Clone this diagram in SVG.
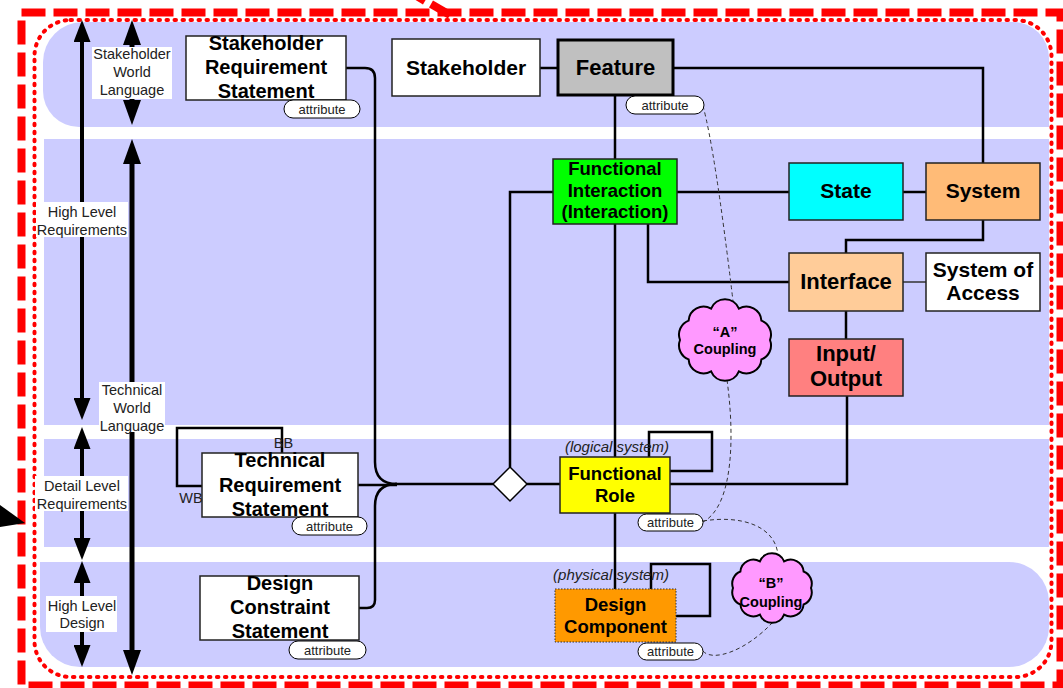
<svg xmlns="http://www.w3.org/2000/svg" width="1063" height="688" viewBox="0 0 1063 688">
<defs>
<style>
.band{fill:#CCCCFF}
.node{stroke:#222;stroke-width:1.5}
.t{font-family:"Liberation Sans",Arial,sans-serif;font-weight:bold;fill:#000;text-anchor:middle}
.lbl{font-family:"Liberation Sans",Arial,sans-serif;font-size:14.5px;fill:#222;text-anchor:middle}
.it{font-family:"Liberation Sans",Arial,sans-serif;font-size:15px;font-style:italic;fill:#222;text-anchor:middle}
.lblbox{fill:#fff}
.attr rect{fill:#fff;stroke:#000;stroke-width:1}
.attr text{font-family:"Liberation Sans",Arial,sans-serif;font-size:13px;fill:#222;text-anchor:middle}
.conn{fill:none;stroke:#000;stroke-width:2.5}
.dash{fill:none;stroke:#333;stroke-width:1;stroke-dasharray:4 3}
.cloud{fill:#FF99FF;stroke:#000;stroke-width:2}
.ax1{stroke:#000;stroke-width:4}
.ax2{stroke:#000;stroke-width:5}
</style>
<marker id="ah1" markerUnits="userSpaceOnUse" markerWidth="22" markerHeight="17" viewBox="0 0 22 17" refX="0" refY="8.5" orient="auto-start-reverse"><path d="M0,0 L22,8.5 L0,17 z" fill="#000"/></marker>
<marker id="ah2" markerUnits="userSpaceOnUse" markerWidth="25" markerHeight="18" viewBox="0 0 25 18" refX="0" refY="9" orient="auto-start-reverse"><path d="M0,0 L25,9 L0,18 z" fill="#000"/></marker>
</defs>

<rect width="1063" height="688" fill="#fff"/>

<g id="bands">
<path class="band" d="M83,22 H1013 A36,36 0 0 1 1049,58 V127 H79 A36,36 0 0 1 43,91 V62 A40,40 0 0 1 83,22 Z"/>
<rect class="band" x="44" y="139" width="1005" height="286"/>
<rect class="band" x="44" y="439" width="1005" height="108"/>
<path class="band" d="M40,562 H1009 A40,40 0 0 1 1049,602 V627 A40,40 0 0 1 1009,667 H80 A40,40 0 0 1 40,627 Z"/>
</g>

<g id="borders">
<rect x="21.5" y="12.5" width="1039" height="673" fill="none" stroke="#FF0000" stroke-width="8" stroke-dasharray="24 8"/>
<rect x="34.5" y="20" width="1017" height="657" rx="36" fill="none" stroke="#FF0000" stroke-width="4" stroke-dasharray="1.5 6.5" stroke-linecap="round"/>
<line x1="405" y1="-11" x2="425" y2="1" stroke="#FF0000" stroke-width="8"/>
<line x1="431" y1="4" x2="450" y2="15" stroke="#FF0000" stroke-width="8"/>
<polygon points="0,505 25,523 0,527" fill="#000"/>
</g>

<g id="axes">
<line class="ax1" x1="82" y1="42" x2="82" y2="398" marker-start="url(#ah1)" marker-end="url(#ah1)"/>
<line class="ax1" x1="82" y1="449" x2="82" y2="538" marker-start="url(#ah1)" marker-end="url(#ah1)"/>
<line class="ax1" x1="82" y1="583" x2="82" y2="645" marker-start="url(#ah1)" marker-end="url(#ah1)"/>
<line class="ax2" x1="132" y1="45" x2="132" y2="100" marker-start="url(#ah2)" marker-end="url(#ah2)"/>
<line class="ax2" x1="132" y1="164" x2="132" y2="650" marker-start="url(#ah2)" marker-end="url(#ah2)"/>
<rect class="lblbox" x="92" y="47" width="80" height="52"/>
<text class="lbl" x="132" y="59">Stakeholder</text>
<text class="lbl" x="132" y="77">World</text>
<text class="lbl" x="132" y="95">Language</text>
<rect class="lblbox" x="36" y="202" width="92" height="35"/>
<text class="lbl" x="82" y="217">High Level</text>
<text class="lbl" x="82" y="235">Requirements</text>
<rect class="lblbox" x="99" y="382" width="66" height="50"/>
<text class="lbl" x="132" y="395">Technical</text>
<text class="lbl" x="132" y="413">World</text>
<text class="lbl" x="132" y="431">Language</text>
<rect class="lblbox" x="35" y="476" width="93" height="35"/>
<text class="lbl" x="82" y="491">Detail Level</text>
<text class="lbl" x="82" y="509">Requirements</text>
<rect class="lblbox" x="46" y="596" width="71" height="36"/>
<text class="lbl" x="82" y="611">High Level</text>
<text class="lbl" x="82" y="628">Design</text>
</g>

<g id="connectors">
<path class="conn" d="M346,68 H365 Q375,68 375,78 V462 Q375,484 397,484"/>
<path class="conn" d="M359,608 H367 Q375,608 375,600 V506 Q375,484 397,484"/>
<path class="conn" d="M358,485 H397" stroke-width="1.5"/>
<path class="conn" d="M395,484 H493" stroke-width="3"/>
<path class="conn" d="M510,467 V192 H553"/>
<path class="conn" d="M527,484 H560"/>
<path class="conn" d="M670,484 H847 V396"/>
<path class="conn" d="M615,95 V159"/>
<path class="conn" d="M615,224 V457"/>
<path class="conn" d="M615,513 V589"/>
<path class="conn" d="M673,68 H983 V163"/>
<path class="conn" d="M540,68 H558"/>
<path class="conn" d="M677,192 H789"/>
<path class="conn" d="M903,192 H926"/>
<path class="conn" d="M983,220 V240 H846 V253"/>
<path class="conn" d="M648,224 V282 H789"/>
<path d="M903,282 H926" fill="none" stroke="#333" stroke-width="1.5"/>
<path class="conn" d="M846,311 V339"/>
<path class="conn" d="M649,457 V432 H712 V471 H670"/>
<path class="conn" d="M651,589 V564 H710 V616 H676"/>
<path class="conn" d="M282,453 V428 H177 V486 H202"/>
<path class="dash" d="M703,106 Q715,150 733,301"/>
<path class="dash" d="M727,380 C734,430 735,505 703,522"/>
<path class="dash" d="M703,521 C740,515 775,525 778,555"/>
<path class="dash" d="M703,651 C712,662 745,652 773,622"/>
<polygon points="510,467 527,484 510,501 493,484" fill="#fff" stroke="#000" stroke-width="1.5"/>
</g>

<g id="n-srs">
<rect class="node" x="186" y="36" width="160" height="64" fill="#fff"/>
<text class="t" font-size="20" x="266" y="50">Stakeholder</text>
<text class="t" font-size="20" x="266" y="74">Requirement</text>
<text class="t" font-size="20" x="266" y="98">Statement</text>
<g class="attr"><rect x="284" y="100" width="76" height="18" rx="9"/><text x="322" y="113.5">attribute</text></g>
</g>

<g id="n-stakeholder">
<rect class="node" x="392" y="39" width="148" height="57" fill="#fff"/>
<text class="t" font-size="21" x="466" y="75">Stakeholder</text>
</g>

<g id="n-feature">
<rect x="558" y="40" width="115" height="55" fill="#C0C0C0" stroke="#000" stroke-width="3"/>
<text class="t" font-size="22" x="615.5" y="75">Feature</text>
<g class="attr"><rect x="626" y="96" width="78" height="18" rx="9"/><text x="665" y="109.5">attribute</text></g>
</g>

<g id="n-fi">
<rect class="node" x="553" y="159" width="124" height="65" fill="#00FF00"/>
<text class="t" font-size="18.5" x="615" y="175">Functional</text>
<text class="t" font-size="18.5" x="615" y="197">Interaction</text>
<text class="t" font-size="18.5" x="615" y="218">(Interaction)</text>
</g>

<g id="n-state">
<rect class="node" x="789" y="163" width="114" height="57" fill="#00FFFF"/>
<text class="t" font-size="21" x="846" y="198">State</text>
</g>

<g id="n-system">
<rect class="node" x="926" y="163" width="114" height="57" fill="#FFBB77"/>
<text class="t" font-size="21" x="983" y="198">System</text>
</g>

<g id="n-interface">
<rect class="node" x="789" y="253" width="114" height="58" fill="#FFCC99"/>
<text class="t" font-size="22" x="846" y="289">Interface</text>
</g>

<g id="n-soa">
<rect class="node" x="926" y="253" width="114" height="58" fill="#fff"/>
<text class="t" font-size="21" x="983" y="277">System of</text>
<text class="t" font-size="21" x="983" y="300">Access</text>
</g>

<g id="n-io">
<rect class="node" x="789" y="339" width="114" height="57" fill="#FF8080"/>
<text class="t" font-size="22" x="846" y="361">Input/</text>
<text class="t" font-size="22" x="846" y="386">Output</text>
</g>

<g id="n-fr">
<text class="it" x="617" y="452">(logical system)</text>
<rect class="node" x="560" y="457" width="110" height="56" fill="#FFFF00"/>
<text class="t" font-size="18.5" x="615" y="480">Functional</text>
<text class="t" font-size="18.5" x="615" y="502">Role</text>
<g class="attr"><rect x="638" y="514" width="65" height="17" rx="8.5"/><text x="670.5" y="527">attribute</text></g>
</g>

<g id="n-dc">
<text class="it" x="611" y="580">(physical system)</text>
<rect x="555" y="589" width="121" height="53" fill="#FF9900" stroke="#333" stroke-width="1" stroke-dasharray="1.5 1.5"/>
<text class="t" font-size="18.5" x="615.5" y="611">Design</text>
<text class="t" font-size="18.5" x="615.5" y="633">Component</text>
<g class="attr"><rect x="638" y="643" width="65" height="17" rx="8.5"/><text x="670.5" y="656">attribute</text></g>
</g>

<g id="n-trs">
<rect class="node" x="202" y="453" width="156" height="64" fill="#fff"/>
<text class="t" font-size="20" x="280" y="467">Technical</text>
<text class="t" font-size="20" x="280" y="492">Requirement</text>
<text class="t" font-size="20" x="280" y="516">Statement</text>
<text class="lbl" x="283.5" y="448" font-size="14">BB</text>
<text class="lbl" x="191" y="503" font-size="14">WB</text>
<g class="attr"><rect x="292" y="517" width="75" height="18" rx="9"/><text x="329.5" y="530.5">attribute</text></g>
</g>

<g id="n-dcs">
<rect class="node" x="200" y="576" width="159" height="64" fill="#fff"/>
<text class="t" font-size="20" x="280" y="590">Design</text>
<text class="t" font-size="20" x="280" y="614">Constraint</text>
<text class="t" font-size="20" x="280" y="638">Statement</text>
<g class="attr"><rect x="289" y="641" width="77" height="18" rx="9"/><text x="327.5" y="654.5">attribute</text></g>
</g>

<g id="n-cloud-a">
<path class="cloud" d="M770,340 A15,15 0 0 1 761.4,359.4 A15,15 0 0 1 738.9,371.4 A15,15 0 0 1 711.1,371.4 A15,15 0 0 1 688.6,359.4 A15,15 0 0 1 680,340 A15,15 0 0 1 688.6,320.6 A15,15 0 0 1 711.1,308.6 A15,15 0 0 1 738.9,308.6 A15,15 0 0 1 761.4,320.6 A15,15 0 0 1 770,340 Z"/>
<text class="t" font-size="14.5" x="725" y="337">“A”</text>
<text class="t" font-size="14.5" x="725" y="354">Coupling</text>
</g>

<g id="n-cloud-b">
<path class="cloud" d="M811,588 A13,13 0 0 1 803.6,604.5 A13,13 0 0 1 784.1,614.6 A13,13 0 0 1 759.9,614.6 A13,13 0 0 1 740.4,604.5 A13,13 0 0 1 733,588 A13,13 0 0 1 740.4,571.5 A13,13 0 0 1 759.9,561.4 A13,13 0 0 1 784.1,561.4 A13,13 0 0 1 803.6,571.5 A13,13 0 0 1 811,588 Z"/>
<text class="t" font-size="14.5" x="771" y="588">“B”</text>
<text class="t" font-size="14.5" x="771" y="607">Coupling</text>
</g>
</svg>
